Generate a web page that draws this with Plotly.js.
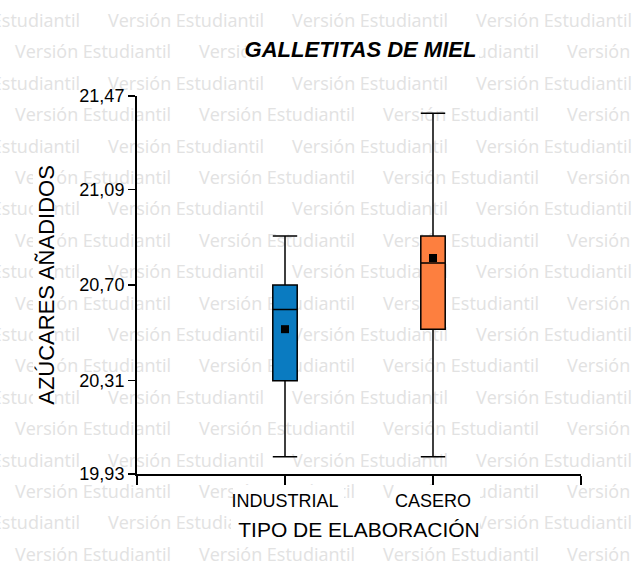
<!DOCTYPE html>
<html>
<head>
<meta charset="utf-8">
<script src="https://cdn.plot.ly/plotly-3.0.1.min.js"></script>
<style>html,body{margin:0;padding:0;background:#fff;}#chart{width:635px;height:562px;}</style>
</head>
<body>
<div id="chart"></div>
<script>
// ---- data ----
var categories = ['INDUSTRIAL', 'CASERO'];
var lowerWhisker = [20.00, 20.00];
var q1 = [20.31, 20.52];
var medians = [20.60, 20.79];
var q3 = [20.70, 20.90];
var upperWhisker = [20.90, 21.40];
var means = [20.52, 20.81];
var boxColors = ['#0a7bc1', '#fd7f3f'];
var yTickValues = [19.93, 20.31, 20.70, 21.09, 21.47];
var yTickLabels = ['19,93', '20,31', '20,70', '21,09', '21,47'];
var chartTitle = 'GALLETITAS DE MIEL';
var xTitle = 'TIPO DE ELABORACIÓN';
var yTitle = 'AZÚCARES AÑADIDOS';
var watermark = 'Versión Estudiantil';

var FONT = 'Liberation Sans, Arial, sans-serif';
var L = 137, R = 54, T = 96, B = 88, W = 635, H = 562;
var PW = W - L - R, PH = H - T - B;
function px2x(p) { return (p - L) / PW; }
function py2y(p) { return (H - B - p) / PH; }

var traces = categories.map(function (c, i) {
  return {
    type: 'box',
    name: c,
    x: [i],
    q1: [q1[i]], median: [medians[i]], q3: [q3[i]],
    lowerfence: [lowerWhisker[i]], upperfence: [upperWhisker[i]],
    width: 0.165,
    whiskerwidth: 1,
    fillcolor: boxColors[i],
    line: {color: '#000', width: 1.5},
    boxpoints: false,
    hoverinfo: 'skip'
  };
});
traces.push({
  type: 'scatter', mode: 'markers',
  x: categories.map(function (c, i) { return i; }),
  y: means,
  marker: {symbol: 'square', size: 8, color: '#000'},
  hoverinfo: 'skip'
});

// watermark rows (styling)
var shapes = [];
for (var k = 0; k < 18; k++) {
  var yc = 21 + 31.4 * k;
  var start0 = (k % 2 === 0) ? -78 : 13;
  for (var s = start0; s < W; s += 184) {
    var cx = s + 80;
    shapes.push({
      type: 'rect', layer: 'below',
      xref: 'paper', yref: 'paper',
      x0: px2x(cx - 85), x1: px2x(cx + 85),
      y0: py2y(yc + 12), y1: py2y(yc - 12),
      line: {width: 0}, fillcolor: 'rgba(0,0,0,0)',
      label: {text: watermark, textposition: 'middle center', padding: 0,
              font: {family: 'Open Sans', size: 18, color: '#e2e2e2'}}
    });
  }
}
// white backgrounds behind labels
function whiteBox(x0, x1, y0, y1) {
  shapes.push({
    type: 'rect', layer: 'below',
    xref: 'paper', yref: 'paper',
    x0: px2x(x0), x1: px2x(x1), y0: py2y(y1), y1: py2y(y0),
    line: {width: 0}, fillcolor: '#ffffff'
  });
}
whiteBox(246, 479, 38, 64);   // title
whiteBox(233, 344, 485, 504); // INDUSTRIAL
whiteBox(394, 480, 485, 504); // CASERO
whiteBox(231, 480, 513, 545); // x title
whiteBox(33, 55, 165, 412);   // y title

var layout = {
  width: W, height: H,
  margin: {l: L, r: R, t: T, b: B},
  paper_bgcolor: '#ffffff',
  plot_bgcolor: 'rgba(0,0,0,0)',
  showlegend: false,
  boxmode: 'overlay',
  title: {
    text: chartTitle,
    font: {family: FONT, size: 22, weight: 'bold', style: 'italic', color: '#000'},
    xref: 'container', x: 360.5 / W, xanchor: 'center',
    yref: 'container', y: 1 - 49 / H, yanchor: 'middle'
  },
  xaxis: {
    range: [-1, 2],
    tickmode: 'array',
    tickvals: [-1, 0, 1, 2],
    ticktext: [''].concat(categories).concat(['']),
    ticks: 'outside', ticklen: 9, tickwidth: 1.5, tickcolor: '#000',
    showline: true, linecolor: '#000', linewidth: 2,
    showgrid: false, zeroline: false,
    tickfont: {family: FONT, size: 18, color: '#000'},
    title: {text: xTitle, font: {family: FONT, size: 21, color: '#000'}, standoff: 13},
    fixedrange: true
  },
  yaxis: {
    range: [19.93, 21.47],
    tickmode: 'array',
    tickvals: yTickValues,
    ticktext: yTickLabels,
    ticks: 'outside', ticklen: 7, tickwidth: 1.5, tickcolor: '#000',
    ticklabelstandoff: 0,
    showline: true, linecolor: '#000', linewidth: 2,
    showgrid: false, zeroline: false,
    tickfont: {family: FONT, size: 18, color: '#000'},
    title: {text: yTitle, font: {family: FONT, size: 22, color: '#000'}, standoff: 19},
    fixedrange: true
  },
  shapes: shapes
};

Plotly.newPlot('chart', traces, layout, {displayModeBar: false, staticPlot: true});
</script>
</body>
</html>
